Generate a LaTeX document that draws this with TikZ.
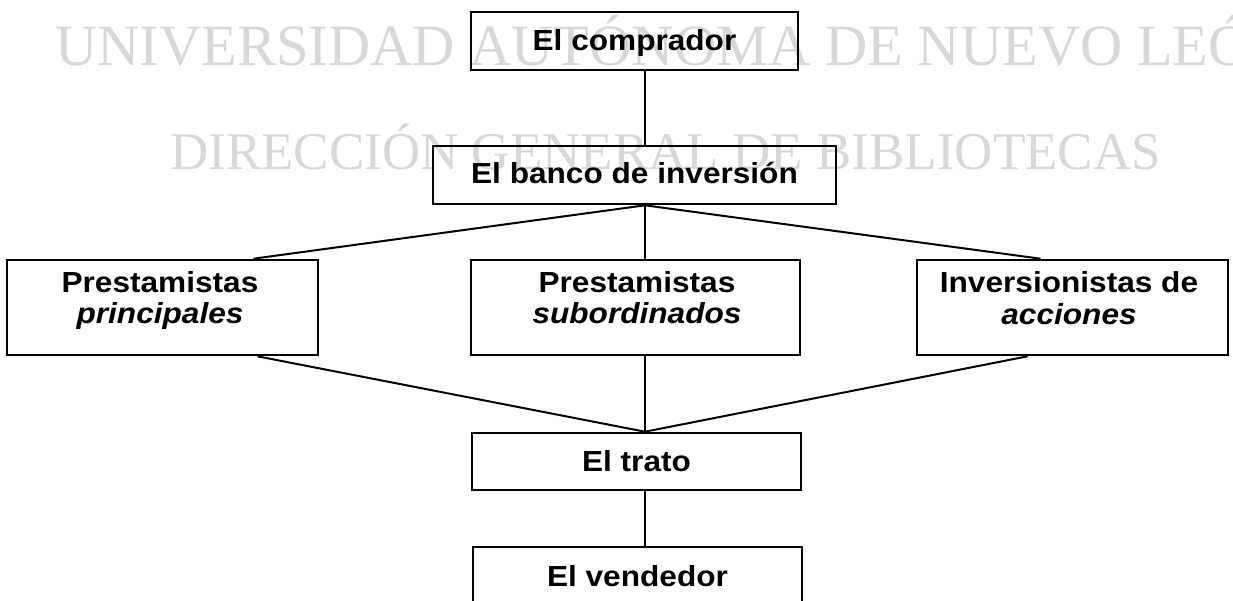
\documentclass[tikz,border=0pt]{standalone}
\usepackage{fontspec}
\setmainfont{Liberation Sans}[FakeStretch=1.09]
\newfontfamily\wmfont{Liberation Serif}
\usetikzlibrary{calc}
\definecolor{wmgray}{RGB}{216,216,216}
\tikzset{
  box/.style={draw=black, line width=2.6pt, inner sep=0pt},
  lbl/.style={anchor=base, inner sep=0pt, font=\fontsize{29}{31.5}\selectfont\bfseries},
  conn/.style={draw=black, line width=2pt},
  wm/.style={anchor=base west, inner sep=0pt, text=wmgray}
}
\begin{document}
\begin{tikzpicture}[x=1pt,y=-1pt]
\useasboundingbox (0,0) rectangle (1233,600);
\clip (0,0) rectangle (1233,600);
\fill[white] (0,0) rectangle (1233,600);
% watermark
\node[wm, font=\wmfont\fontsize{58.5}{60}\selectfont] (wm1) at (55,65) {UNIVERSIDAD AUTÓNOMA DE NUEVO LEÓN};
\node[wm, font=\wmfont\fontsize{53}{55}\selectfont] (wm2) at (170,169) {DIRECCIÓN GENERAL DE BIBLIOTECAS};
% axis
\coordinate (ax) at (645,0);
% boxes
\node[box, minimum width=327pt, minimum height=58pt] (comp) at (634.5,41) {};
\node[box, minimum width=403pt, minimum height=58pt] (banco) at (634.5,175) {};
\node[box, minimum width=311pt, minimum height=95pt] (left) at (162.5,307.5) {};
\node[box, minimum width=329pt, minimum height=95pt] (mid) at (635.5,307.5) {};
\node[box, minimum width=311pt, minimum height=95pt] (right) at (1072.5,307.5) {};
\node[box, minimum width=329pt, minimum height=57pt] (trato) at (636.5,461.5) {};
\node[box, minimum width=329pt, minimum height=58pt] (vend) at (637.5,576) {};
% labels
\node[lbl] (tcomp) at (634.5,50) {El comprador};
\node[lbl] (tbanco) at (634.5,183) {El banco de inversión};
\node[lbl] (tleftA) at (160,292) {Prestamistas};
\node[lbl] (tleftB) at (160,323.5) {\itshape principales};
\node[lbl] (tmidA) at (637,292) {Prestamistas};
\node[lbl] (tmidB) at (637,323.5) {\itshape subordinados};
\node[lbl] (trightA) at (1069,292.5) {Inversionistas de};
\node[lbl] (trightB) at (1069,324) {\itshape acciones};
\node[lbl] (ttrato) at (636.5,471.5) {El trato};
\node[lbl] (tvend) at (637.5,586) {El vendedor};
% connection points
\coordinate (bb) at (banco.south -| ax);
\coordinate (tt) at (trato.north -| ax);
\coordinate (lt) at ($(left.north)+(91,0)$);
\coordinate (lb) at ($(left.south)+(95,0)$);
\coordinate (rt) at ($(right.north)+(-32,0)$);
\coordinate (rb) at ($(right.south)+(-45,0)$);
% connectors
\draw[conn] (comp.south -| ax) -- (banco.north -| ax);
\draw[conn] (bb) -- (mid.north -| ax);
\draw[conn] (bb) -- (lt);
\draw[conn] (bb) -- (rt);
\draw[conn] (mid.south -| ax) -- (tt);
\draw[conn] (lb) -- (tt);
\draw[conn] (rb) -- (tt);
\draw[conn] (trato.south -| ax) -- (vend.north -| ax);
\end{tikzpicture}
\end{document}
